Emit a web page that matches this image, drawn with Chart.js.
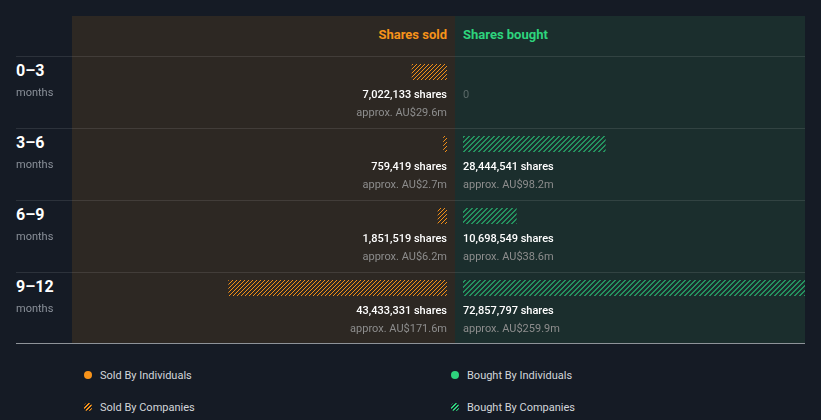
<!DOCTYPE html>
<html>
<head>
<meta charset="utf-8">
<script src="https://cdn.jsdelivr.net/npm/chart.js@4/dist/chart.umd.min.js"></script>
<style>
  body { margin: 0; background: #151b25; font-family: Roboto, "Open Sans", sans-serif; }
  #wrap { position: relative; width: 821px; height: 420px; overflow: hidden; }
  .abs { position: absolute; }
  .panelSold { left: 72px; top: 16px; width: 383px; height: 327px; background: #2d2823; }
  .panelBought { left: 455px; top: 16px; width: 350px; height: 327px; background: #1b2e2d; }
  .rule { left: 16px; width: 789px; height: 1px; background: rgba(255,255,255,0.1); }
  .bottomRule { left: 16px; width: 789px; height: 1px; top: 343px; background: #8e9399; }
  .head { font-size: 13px; font-weight: 700; line-height: 16px; top: 27px; }
  .period { left: 16px; font-size: 16px; font-weight: 700; color: #fff; line-height: 18px; }
  .months { left: 16px; font-size: 11px; color: #8a9099; line-height: 14px; }
  .shares { font-size: 11px; font-weight: 500; color: #fff; line-height: 14px; white-space: nowrap; }
  .approx { font-size: 11px; color: #8d8d8d; line-height: 14px; white-space: nowrap; }
  .right { text-align: right; }
  .legend { font-size: 11px; color: #d3d6da; line-height: 14px; white-space: nowrap; }
  .dot { width: 8px; height: 8px; border-radius: 50%; }
  canvas { position: absolute; }
</style>
</head>
<body>
<div id="wrap">
  <div class="abs panelSold"></div>
  <div class="abs panelBought"></div>
  <div class="abs bottomRule"></div>
  <div class="abs head right" style="left:72px;width:375px;color:#f7931a;">Shares sold</div>
  <div class="abs head" style="left:463px;color:#2ed47d;">Shares bought</div>
  <canvas id="soldChart" width="375" height="288" style="left:72px;top:36px;"></canvas>
  <canvas id="boughtChart" width="342" height="288" style="left:463px;top:36px;"></canvas>
  <div id="labels"></div>
</div>
<script>
const categories = ['0–3', '3–6', '6–9', '9–12'];
const soldByIndividuals = [0, 0, 0, 0];
const soldByCompanies = [7022133, 759419, 1851519, 43433331];
const boughtByIndividuals = [0, 0, 0, 0];
const boughtByCompanies = [0, 28444541, 10698549, 72857797];
const soldValueAUDm = [29.6, 2.7, 6.2, 171.6];
const boughtValueAUDm = [0, 98.2, 38.6, 259.9];
const legendLabels = ['Sold By Individuals', 'Sold By Companies', 'Bought By Individuals', 'Bought By Companies'];

const orange = '#f7931a';
const green = '#2ed47d';

// crisp "/" hatch, drawn pixel by pixel
const hatch = (color, size, width) => {
    const c = document.createElement('canvas');
    c.width = size;
    c.height = size;
    const g = c.getContext('2d');
    g.fillStyle = color;
    for (let y = 0; y < size; y++) {
        for (let x = 0; x < size; x++) {
            if ((x + y) % size < width) g.fillRect(x, y, 1, 1);
        }
    }
    return g.createPattern(c, 'repeat');
};

const fmt = n => n.toLocaleString('en-US');

// rows and text
const labels = document.getElementById('labels');
let html = '';
categories.forEach((cat, i) => {
    const top = 56 + 72 * i;
    html += `<div class="abs rule" style="top:${top}px"></div>`;
    html += `<div class="abs period" style="top:${top + 6}px">${cat}</div>`;
    html += `<div class="abs months" style="top:${top + 30}px">months</div>`;
    html += `<div class="abs shares right" style="left:247px;width:200px;top:${top + 32}px">${fmt(soldByCompanies[i] + soldByIndividuals[i])} shares</div>`;
    html += `<div class="abs approx right" style="left:247px;width:200px;top:${top + 50}px">approx. AU$${soldValueAUDm[i]}m</div>`;
    const bought = boughtByCompanies[i] + boughtByIndividuals[i];
    if (bought === 0) {
        html += `<div class="abs approx" style="left:463px;top:${top + 32}px;color:#5b6968">0</div>`;
    } else {
        html += `<div class="abs shares" style="left:463px;top:${top + 32}px">${fmt(bought)} shares</div>`;
        html += `<div class="abs approx" style="left:463px;top:${top + 50}px">approx. AU$${boughtValueAUDm[i]}m</div>`;
    }
});

// legend
const legendItems = [
    { x: 84, y: 371, bg: orange, hatched: false },
    { x: 84, y: 403, bg: orange, hatched: true },
    { x: 451, y: 371, bg: green, hatched: false },
    { x: 451, y: 403, bg: green, hatched: true }
];
legendItems.forEach((it, i) => {
    const bg = it.hatched
        ? `repeating-linear-gradient(135deg, ${it.bg} 0 1.5px, transparent 1.5px 3px)`
        : it.bg;
    html += `<div class="abs dot" style="left:${it.x}px;top:${it.y}px;background:${bg}"></div>`;
    html += `<div class="abs legend" style="left:${it.x + 16}px;top:${it.y - 2}px">${legendLabels[i]}</div>`;
});
labels.innerHTML = html;

const baseOptions = (max, reverse) => ({
    indexAxis: 'y',
    responsive: false,
    animation: false,
    devicePixelRatio: 1,
    layout: { padding: 0 },
    plugins: { legend: { display: false }, tooltip: { enabled: false } },
    datasets: { bar: { barThickness: 16, inflateAmount: 0, borderWidth: 0 } },
    scales: {
        x: { display: false, min: 0, max: max, reverse: reverse, stacked: true },
        y: { display: false, stacked: true }
    }
});

new Chart(document.getElementById('soldChart'), {
    type: 'bar',
    data: {
        labels: categories,
        datasets: [
            { label: 'Sold By Individuals', data: soldByIndividuals, backgroundColor: orange },
            { label: 'Sold By Companies', data: soldByCompanies, backgroundColor: hatch('#f39018', 4, 1) }
        ]
    },
    options: baseOptions(74.5e6, true)
});

new Chart(document.getElementById('boughtChart'), {
    type: 'bar',
    data: {
        labels: categories,
        datasets: [
            { label: 'Bought By Individuals', data: boughtByIndividuals, backgroundColor: green },
            { label: 'Bought By Companies', data: boughtByCompanies, backgroundColor: hatch('#25925f', 5, 2) }
        ]
    },
    options: baseOptions(68.2e6, false)
});
</script>
</body>
</html>
